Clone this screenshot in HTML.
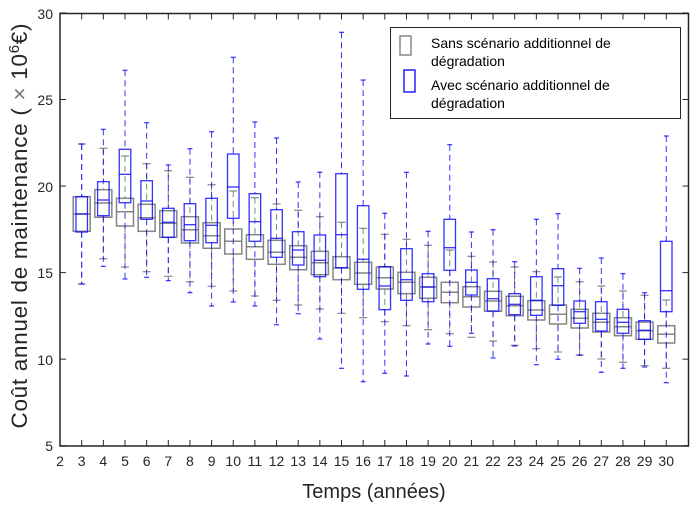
<!DOCTYPE html>
<html><head><meta charset="utf-8"><style>
body{margin:0;background:#fff;}
svg{display:block;font-family:"Liberation Sans",sans-serif;}
</style></head><body>
<svg id="s" width="695" height="505" viewBox="0 0 695 505" xmlns="http://www.w3.org/2000/svg">
<rect x="0" y="0" width="695" height="505" fill="#fff"/>
<g id="boxes"></g>
<rect x="60" y="13.5" width="628.5" height="432.5" fill="none" stroke="#262626" stroke-width="1.5"/>
<g id="ticks" stroke="#262626" stroke-width="1"></g>
<g font-size="14" fill="#262626" text-anchor="end">
<text x="53" y="451">5</text><text x="53" y="365">10</text><text x="53" y="278">15</text>
<text x="53" y="192">20</text><text x="53" y="105">25</text><text x="53" y="19">30</text>
</g>
<g id="xl" font-size="14" fill="#262626" text-anchor="middle">
<text x="60" y="466">2</text><text x="81.7" y="466">3</text><text x="103.3" y="466">4</text><text x="125" y="466">5</text><text x="146.6" y="466">6</text><text x="168.3" y="466">7</text><text x="189.9" y="466">8</text><text x="211.6" y="466">9</text><text x="233.2" y="466">10</text><text x="254.9" y="466">11</text><text x="276.5" y="466">12</text><text x="298.2" y="466">13</text><text x="319.8" y="466">14</text><text x="341.5" y="466">15</text><text x="363.1" y="466">16</text><text x="384.8" y="466">17</text><text x="406.4" y="466">18</text><text x="428.1" y="466">19</text><text x="449.7" y="466">20</text><text x="471.4" y="466">21</text><text x="493" y="466">22</text><text x="514.7" y="466">23</text><text x="536.3" y="466">24</text><text x="558" y="466">25</text><text x="579.6" y="466">26</text><text x="601.3" y="466">27</text><text x="622.9" y="466">28</text><text x="644.6" y="466">29</text><text x="666.2" y="466">30</text>
</g>
<text x="374" y="498" font-size="20" fill="#262626" text-anchor="middle">Temps (années)</text>
<text transform="translate(27,226) rotate(-90)" font-size="22.5" fill="#262626" text-anchor="middle" textLength="405" lengthAdjust="spacing">Coût annuel de maintenance (  <tspan fill="#777">×</tspan>  10<tspan dy="-8" font-size="15">6</tspan><tspan dy="8">€)</tspan></text>
<rect x="390.5" y="27.5" width="290" height="91" fill="#fff" stroke="#262626" stroke-width="1"/>
<rect x="400" y="36" width="11" height="19" fill="none" stroke="#888" stroke-width="1.5"/>
<rect x="404" y="70" width="11" height="22" fill="none" stroke="#0000ff" stroke-width="1.3"/>
<g font-size="14" fill="#000">
<text x="431" y="48">Sans scénario additionnel de</text>
<text x="431" y="66">dégradation</text>
<text x="431" y="90">Avec scénario additionnel de</text>
<text x="431" y="108">dégradation</text>
</g>
</svg>
<script>
var G=[[3,196.7,231.3,214,144,284],[4,189.7,217.3,203,148.3,258.7],[5,198.3,226,211.7,156,267],[6,204.3,231.3,217.7,163.7,271.7],[7,210.7,237.3,223.3,170.7,276.3],[8,216.7,243,229.7,177.3,281.7],[9,222.7,248.3,235.7,184.7,286.3],[10,229,254,241.3,191,291],[11,234.7,259.3,246.7,197.7,296],[12,240.3,264.3,252.3,204,300.3],[13,245.7,269.7,257.3,210.3,305],[14,251.3,274.7,262.7,216.7,309],[15,256.7,279.7,268,222.3,313.3],[16,262.3,284.3,273,228.3,317.7],[17,267,289,277.7,234.3,321.7],[18,272.3,293.7,282.3,239.3,325.7],[19,277.3,298.3,287,245.3,329.7],[20,282.3,302.7,292.3,250,333.7],[21,286.7,307,296.7,256.3,337.3],[22,291.3,311.3,301,262,341],[23,296.3,315.7,305.7,267,345.3],[24,300.7,320,310,271.7,348.7],[25,305,324,314.3,277,352],[26,309.3,328,318.3,281.7,355],[27,313.3,332,322.3,286,359],[28,317.7,335.7,326.7,291,362.3],[29,322,339.3,330.7,295.3,365.7],[30,325.7,343,334.3,300,368.3]];
var B=[[3,196.7,232,214,144,284],[4,181.7,215.7,200,129.3,266.3],[5,149.3,202.7,174.3,70.3,279],[6,180.7,219.3,201,122.7,277.3],[7,208.3,237.3,222.3,165,280.7],[8,203.7,240.7,224.7,148.7,292.7],[9,198.3,242.7,225.3,131.7,306],[10,154,218.3,187,57.3,302],[11,193.7,241.3,221.7,122,306],[12,209.7,257.3,238.3,138,324.7],[13,231.7,265,250,182,313.7],[14,235,276.7,260.3,172.3,339],[15,173.7,267.7,234.7,32.3,368.3],[16,205.7,289.3,259.3,80,381.7],[17,266.7,309.7,286,213.3,373.3],[18,248.7,300.3,279.7,172.3,376],[19,273.7,301.7,287,231.3,344],[20,219.3,270.3,247.7,144.7,346.3],[21,270,295,282.3,232,333.3],[22,278.7,311,298.7,229.7,358],[23,293.7,314.7,304.3,261.7,346],[24,276.7,315.3,300.3,219.3,364.7],[25,268.7,305.3,285.7,213.7,359.3],[26,301,323.3,311.7,268.3,355.3],[27,301.7,331,319.3,258,372.3],[28,309.3,333.3,322.3,273.7,368.3],[29,320.7,339.3,330.3,292.7,367],[30,241.3,311.7,290.7,136,382.7]];
function X(n){return 81.7+(n-3)*21.65;}
var ns="http://www.w3.org/2000/svg",g=document.getElementById('boxes');
function el(t,a){var e=document.createElementNS(ns,t);for(var k in a)e.setAttribute(k,a[k]);g.appendChild(e);}
function draw(d,col,w,cw,sw,op){d.forEach(function(r){var x=X(r[0]);
el('line',{x1:x,x2:x,y1:r[4],y2:r[1],stroke:col,'stroke-width':1,'stroke-dasharray':'6,4',opacity:op});
el('line',{x1:x,x2:x,y1:r[2],y2:r[5],stroke:col,'stroke-width':1,'stroke-dasharray':'6,4',opacity:op});
el('line',{x1:x-cw,x2:x+cw,y1:r[4],y2:r[4],stroke:col,'stroke-width':1.2,opacity:op});
el('line',{x1:x-cw,x2:x+cw,y1:r[5],y2:r[5],stroke:col,'stroke-width':1.2,opacity:op});
el('rect',{x:x-w/2,y:r[1],width:w,height:r[2]-r[1],fill:'none',stroke:col,'stroke-width':sw,opacity:op});
el('line',{x1:x-w/2,x2:x+w/2,y1:r[3],y2:r[3],stroke:col,'stroke-width':sw,opacity:op});});}
draw(G,'#707070',17,4,1.5,0.85);
draw(B,'#0000ff',11.5,2.5,1.3,0.8);
var t=document.getElementById('ticks');
function tl(a){var e=document.createElementNS(ns,'line');for(var k in a)e.setAttribute(k,a[k]);t.appendChild(e);}
for(var n=2;n<=30;n++){var x=X(n);tl({x1:x,x2:x,y1:446,y2:440});tl({x1:x,x2:x,y1:13.5,y2:19.5});}
[5,10,15,20,25,30].forEach(function(v){var y=445.7-(v-5)*17.31;tl({x1:60,x2:66,y1:y,y2:y});tl({x1:688.5,x2:682.5,y1:y,y2:y});});
</script>
</body></html>
